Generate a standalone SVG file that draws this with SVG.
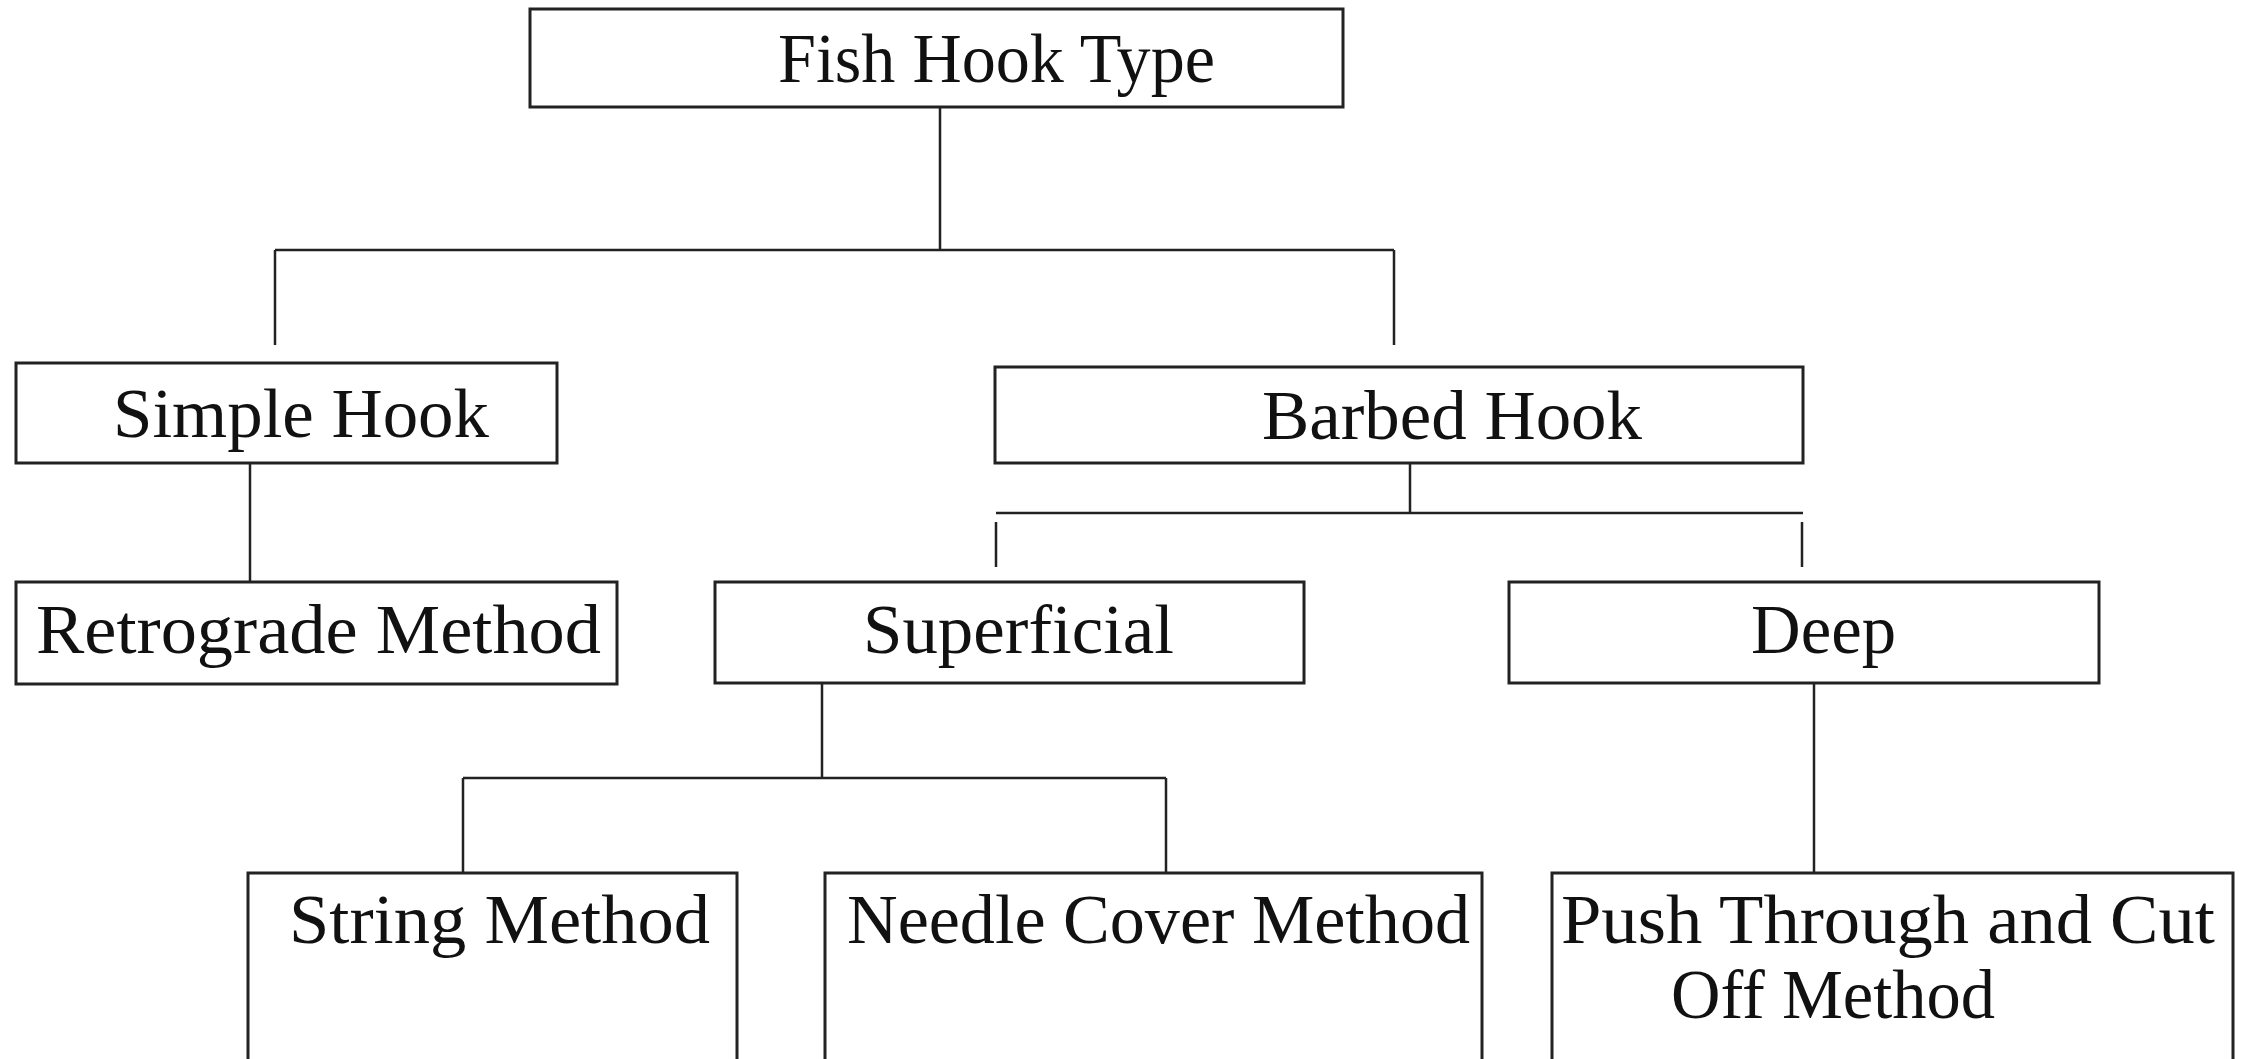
<svg xmlns="http://www.w3.org/2000/svg" width="2247" height="1059" viewBox="0 0 2247 1059">
<style>
.box{fill:#fff;stroke:#222;stroke-width:3}
.ln{stroke:#222;stroke-width:2.5;fill:none}
text{font-family:"Liberation Serif","Times New Roman",serif;font-size:70px;fill:#111}
</style>
<rect x="0" y="0" width="2247" height="1059" fill="#fff"/>
<g id="connectors">
<path class="ln" d="M940 107V250M275 250H1394M275 250V345M1394 250V345"/>
<path class="ln" d="M250 463V582"/>
<path class="ln" d="M1410 463V513M996 513H1803M996 522V567M1802 522V567"/>
<path class="ln" d="M822 683V778M463 778H1166M463 778V880M1166 778V873"/>
<path class="ln" d="M1814 683V873"/>
</g>
<g id="n-fish"><rect class="box" x="530" y="9" width="813" height="98"/><text x="778" y="82" textLength="437" lengthAdjust="spacingAndGlyphs">Fish Hook Type</text></g>
<g id="n-simple"><rect class="box" x="16" y="363" width="541" height="100"/><text x="113" y="437" textLength="376" lengthAdjust="spacingAndGlyphs">Simple Hook</text></g>
<g id="n-barbed"><rect class="box" x="995" y="367" width="808" height="96"/><text x="1262" y="439" textLength="380" lengthAdjust="spacingAndGlyphs">Barbed Hook</text></g>
<g id="n-retro"><rect class="box" x="16" y="582" width="601" height="102"/><text x="36" y="653" textLength="565" lengthAdjust="spacingAndGlyphs">Retrograde Method</text></g>
<g id="n-superficial"><rect class="box" x="715" y="582" width="589" height="101"/><text x="863" y="653" textLength="311" lengthAdjust="spacingAndGlyphs">Superficial</text></g>
<g id="n-deep"><rect class="box" x="1509" y="582" width="590" height="101"/><text x="1751" y="653" textLength="145" lengthAdjust="spacingAndGlyphs">Deep</text></g>
<g id="n-string"><rect class="box" x="248" y="873" width="489" height="200"/><text x="289" y="943" textLength="421" lengthAdjust="spacingAndGlyphs">String Method</text></g>
<g id="n-needle"><rect class="box" x="825" y="873" width="657" height="200"/><text x="847" y="943" textLength="623" lengthAdjust="spacingAndGlyphs">Needle Cover Method</text></g>
<g id="n-push"><rect class="box" x="1552" y="873" width="681" height="200"/><text x="1561" y="943" textLength="654" lengthAdjust="spacingAndGlyphs">Push Through and Cut</text><text x="1671" y="1018" textLength="324" lengthAdjust="spacingAndGlyphs">Off Method</text></g>
</svg>
